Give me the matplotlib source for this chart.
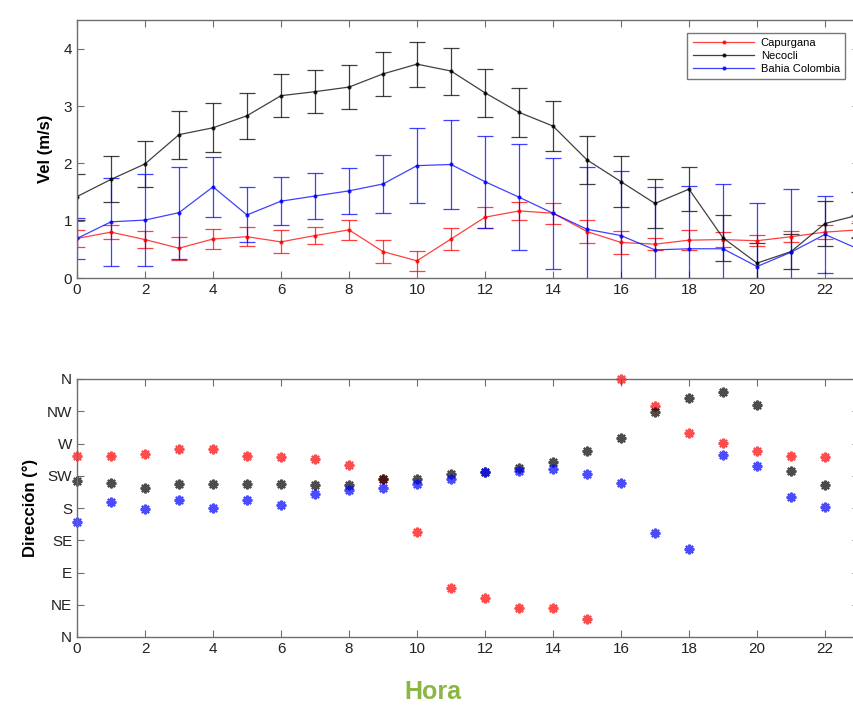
import numpy as np
import matplotlib
matplotlib.use('Agg')
import matplotlib.pyplot as plt
from matplotlib.lines import Line2D

plt.rcParams['font.family'] = ['Liberation Sans', 'DejaVu Sans']

# ── data ───────────────────────────────────────────────────────────────────
horas = list(range(24))

vel_capurgana = [0.69, 0.80, 0.67, 0.52, 0.68, 0.72, 0.63, 0.74, 0.84, 0.46, 0.30, 0.68,
                 1.06, 1.17, 1.13, 0.81, 0.62, 0.59, 0.66, 0.67, 0.65, 0.72, 0.80, 0.84]
err_capurgana = [0.15, 0.12, 0.15, 0.20, 0.17, 0.17, 0.20, 0.15, 0.17, 0.20, 0.17, 0.20,
                 0.18, 0.15, 0.18, 0.20, 0.20, 0.10, 0.18, 0.13, 0.10, 0.10, 0.12, 0.12]

vel_necocli = [1.42, 1.72, 1.99, 2.50, 2.62, 2.83, 3.18, 3.25, 3.33, 3.56, 3.73, 3.61,
               3.23, 2.89, 2.65, 2.06, 1.68, 1.30, 1.55, 0.70, 0.26, 0.46, 0.95, 1.10]
err_necocli = [0.40, 0.40, 0.40, 0.42, 0.43, 0.40, 0.38, 0.38, 0.38, 0.38, 0.39, 0.41,
               0.42, 0.43, 0.43, 0.42, 0.44, 0.42, 0.38, 0.40, 0.35, 0.30, 0.40, 0.40]

vel_bahia = [0.69, 0.98, 1.01, 1.14, 1.59, 1.10, 1.34, 1.43, 1.52, 1.64, 1.96, 1.98,
             1.68, 1.41, 1.13, 0.85, 0.74, 0.49, 0.51, 0.51, 0.20, 0.45, 0.76, 0.50]
err_bahia = [0.35, 0.77, 0.80, 0.80, 0.52, 0.48, 0.42, 0.40, 0.40, 0.50, 0.65, 0.77,
             0.80, 0.93, 0.97, 1.09, 1.12, 1.10, 1.10, 1.13, 1.10, 1.10, 0.67, 0.60]

dir_horas = list(range(23))
dir_capurgana = [253, 252, 256, 263, 262, 252, 251, 248, 240, 220, 146, 69,
                 55, 41, 41, 25, 360, 323, 285, 271, 260, 253, 251]
dir_necocli = [217, 215, 208, 213, 213, 213, 213, 212, 212, 220, 220, 227,
               230, 236, 244, 260, 277, 314, 333, 342, 324, 231, 212]
dir_bahia = [160, 188, 178, 191, 180, 191, 184, 200, 205, 208, 214, 220,
             230, 232, 235, 227, 215, 145, 123, 254, 238, 196, 182]

estaciones = ['Capurgana', 'Necocli', 'Bahia Colombia']
colores = ['#ff0000', '#000000', '#0000ff']
rumbos = ['N', 'NE', 'E', 'SE', 'S', 'SW', 'W', 'NW', 'N']

W, H = 854, 709
fig = plt.figure(figsize=(W / 100, H / 100), dpi=100)

# axes run a bit past the right edge, as in the cropped original
L, R = 77, 859
ax1 = fig.add_axes([L / W, 1 - 278 / H, (R - L) / W, 258 / H])
ax2 = fig.add_axes([L / W, 1 - 637 / H, (R - L) / W, 258 / H])

spine_col = '#6e6e6e'
for ax in (ax1, ax2):
    for s in ax.spines.values():
        s.set_color(spine_col)
        s.set_linewidth(1.0)
    ax.tick_params(direction='in', length=5, width=0.8, color=spine_col,
                   top=True, right=True, labelsize=11, labelcolor='#222222')
    ax.set_xlim(0, 23)
    ax.set_xticks(range(0, 24, 2))

# ── velocity ───────────────────────────────────────────────────────────────
handles = []
for name, v, e, c in zip(estaciones,
                         [vel_capurgana, vel_necocli, vel_bahia],
                         [err_capurgana, err_necocli, err_bahia], colores):
    ax1.errorbar(horas, v, yerr=e, color=c, lw=0.9, marker='.', ms=4,
                 elinewidth=0.9, capsize=6, capthick=0.9, alpha=0.75)
    handles.append(Line2D([], [], color=c, lw=0.9, marker='.', ms=4,
                          alpha=0.75, label=name))
ax1.set_ylim(0, 4.5)
ax1.set_yticks([0, 1, 2, 3, 4])
ax1.set_ylabel('Vel (m/s)', fontsize=12, fontweight='bold', labelpad=8)

leg = ax1.legend(handles=handles, loc='upper right',
                 bbox_to_anchor=(851 / W, 1 - 27 / H),
                 bbox_transform=fig.transFigure, fontsize=8, frameon=True,
                 fancybox=False, borderpad=0.5, labelspacing=0.25,
                 handlelength=5.5, handletextpad=0.6)
leg.get_frame().set_edgecolor('#555555')
leg.get_frame().set_linewidth(1.0)

# ── direction ──────────────────────────────────────────────────────────────
for d, c in zip([dir_capurgana, dir_necocli, dir_bahia], colores):
    ax2.plot(dir_horas, d, ls='none', marker=(8, 2, 0), ms=7, mew=1.6,
             color=c, alpha=0.7, clip_on=False)
ax2.set_ylim(0, 360)
ax2.set_yticks(np.arange(0, 361, 45))
ax2.set_yticklabels(rumbos)
ax2.set_ylabel('Dirección (°)', fontsize=12, fontweight='bold', labelpad=6)

fig.text(433 / W, 1 - 692 / H, 'Hora', ha='center', va='center',
         fontsize=18, fontweight='bold', color='#8db543')

fig.savefig('out.png', dpi=100)
